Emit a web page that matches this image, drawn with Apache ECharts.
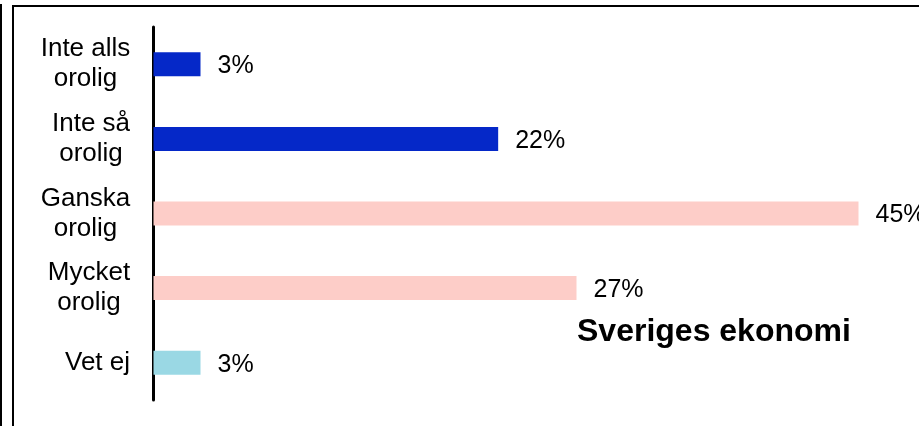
<!DOCTYPE html>
<html>
<head>
<meta charset="utf-8">
<script src="https://cdn.jsdelivr.net/npm/echarts@6/dist/echarts.min.js"></script>
<style>
  html, body { margin: 0; padding: 0; background: #fff; }
  #chart { width: 919px; height: 426px; }
</style>
</head>
<body>
<div id="chart"></div>
<script>
const categories = ['Inte alls\norolig', 'Inte så\norolig', 'Ganska\norolig', 'Mycket\norolig', 'Vet ej'];
const values = [3, 22, 45, 27, 3];
const barColors = ['#0528c8', '#0528c8', '#fdcdc8', '#fdcdc8', '#9ad8e4'];
const chartTitle = 'Sveriges ekonomi';

const FONT = '"Liberation Sans", Arial, sans-serif';
const chart = echarts.init(document.getElementById('chart'));

// each label block is right aligned, its lines centred inside it
const ctx = document.createElement('canvas').getContext('2d');
ctx.font = '26px ' + FONT;
const rich = {};
categories.forEach((c, i) => {
  const w = Math.max(...c.split('\n').map(l => ctx.measureText(l).width));
  rich['w' + i] = { width: Math.ceil(w), align: 'center', fontSize: 26, lineHeight: 30, fontFamily: FONT, color: '#000' };
});

chart.setOption({
  animation: false,
  backgroundColor: '#fff',
  title: {
    text: chartTitle,
    left: 577,
    top: 316,
    padding: 0,
    textStyle: { fontSize: 32, fontWeight: 'bold', fontFamily: FONT, color: '#000' }
  },
  grid: { left: 153.5, top: 27, width: 752, height: 373, containLabel: false, outerBoundsMode: 'none' },
  xAxis: {
    type: 'value',
    min: 0,
    max: 48,
    show: false
  },
  yAxis: {
    type: 'category',
    data: categories,
    inverse: true,
    axisTick: { show: false },
    axisLine: { lineStyle: { color: '#000', width: 3 } },
    axisLabel: {
      margin: 23,
      align: 'right',
      fontSize: 26,
      lineHeight: 30,
      fontFamily: FONT,
      color: '#000',
      formatter: (value, index) => value.split('\n').map(l => '{w' + index + '|' + l + '}').join('\n'),
      rich: rich
    }
  },
  series: [{
    type: 'bar',
    barWidth: 24,
    data: values.map((v, i) => ({ value: v, itemStyle: { color: barColors[i] } })),
    label: {
      show: true,
      position: 'right',
      distance: 17,
      offset: [0, 2],
      formatter: '{c}%',
      fontSize: 25,
      fontFamily: FONT,
      color: '#000'
    },
    z: 1
  }],
  graphic: [
    { type: 'line', shape: { x1: 1, y1: 4, x2: 1, y2: 426 }, style: { stroke: '#000', lineWidth: 2 } },
    { type: 'polyline', shape: { points: [[13, 426], [13, 6], [919, 6]] }, style: { stroke: '#000', lineWidth: 2, fill: null } }
  ]
});
</script>
</body>
</html>
